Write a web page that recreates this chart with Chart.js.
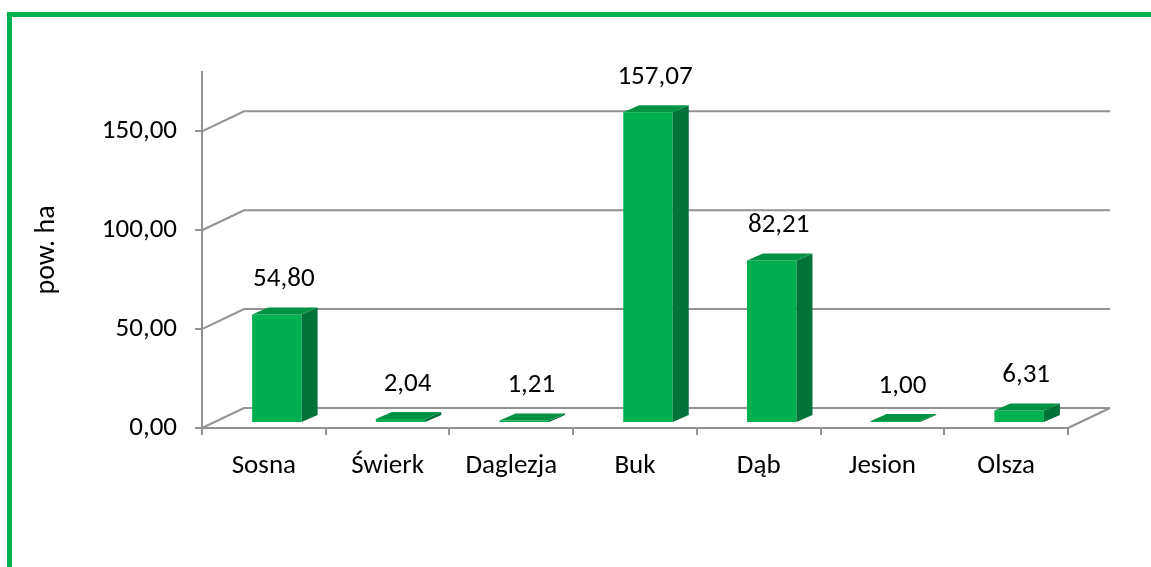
<!DOCTYPE html>
<html>
<head>
<meta charset="utf-8">
<script src="https://cdn.jsdelivr.net/npm/chart.js@4.4.0/dist/chart.umd.min.js"></script>
<style>
  body { margin: 0; background: #fff; overflow: hidden; }
  #wrap { position: relative; width: 1151px; height: 567px; overflow: hidden; }
  #frame {
    position: absolute; left: 7px; top: 12px; width: 1300px; height: 700px;
    border-left: 5px solid #00b050; border-top: 5px solid #00b050;
  }
  #chart { position: absolute; left: 0; top: 0; }
</style>
</head>
<body>
<div id="wrap">
  <div id="frame"></div>
  <canvas id="chart" width="1151" height="567"></canvas>
</div>
<script>
const categories = ['Sosna', 'Świerk', 'Daglezja', 'Buk', 'Dąb', 'Jesion', 'Olsza'];
const areaHa = [54.80, 2.04, 1.21, 157.07, 82.21, 1.00, 6.31];
const yTicks = [0, 50, 100, 150];
const yMax = 180;

const FONT = 'Calibri, Carlito, Lato, sans-serif';
const FSIZE = 27;
const GRID = '#929292';
const FRONT = '#00b050';
const SIDE = '#00723a';
const TOP = '#009243';

// 3d look: depth of the walls, depth of a bar, and where the bars stand on the floor
const WALL_DX = 42, WALL_DY = -20;
const BAR_DX = 16, BAR_DY = -7;
const SHIFT_X = 13, SHIFT_Y = -5;

const fmt = v => v.toFixed(2).replace('.', ',');

const pseudo3d = {
    id: 'pseudo3d',
    beforeDatasetsDraw(chart) {
        const { ctx, chartArea } = chart;
        const y = chart.scales.y;
        ctx.save();
        ctx.strokeStyle = GRID;
        ctx.lineWidth = 2;
        yTicks.forEach(v => {
            const py = y.getPixelForValue(v);
            ctx.beginPath();
            ctx.moveTo(chartArea.left, py);
            ctx.lineTo(chartArea.left + WALL_DX, py + WALL_DY);
            ctx.lineTo(chartArea.right + WALL_DX, py + WALL_DY);
            ctx.stroke();
        });
        const p0 = y.getPixelForValue(0);
        ctx.beginPath();
        ctx.moveTo(chartArea.right, p0);
        ctx.lineTo(chartArea.right + WALL_DX, p0 + WALL_DY);
        ctx.stroke();
        ctx.restore();

        // front faces are drawn by chart.js, moved back a bit into the floor
        ctx.save();
        ctx.translate(SHIFT_X, SHIFT_Y);
    },
    afterDatasetsDraw(chart) {
        const { ctx } = chart;
        const meta = chart.getDatasetMeta(0);
        meta.data.forEach(bar => {
            const l = bar.x - bar.width / 2;
            const r = bar.x + bar.width / 2;
            const t = bar.y, b = bar.base;

            ctx.fillStyle = SIDE;
            ctx.beginPath();
            ctx.moveTo(r, t);
            ctx.lineTo(r + BAR_DX, t + BAR_DY);
            ctx.lineTo(r + BAR_DX, b + BAR_DY);
            ctx.lineTo(r, b);
            ctx.closePath();
            ctx.fill();

            ctx.fillStyle = TOP;
            ctx.beginPath();
            ctx.moveTo(l, t);
            ctx.lineTo(r, t);
            ctx.lineTo(r + BAR_DX, t + BAR_DY);
            ctx.lineTo(l + BAR_DX, t + BAR_DY);
            ctx.closePath();
            ctx.fill();
        });
        ctx.restore();

        // value labels
        ctx.save();
        ctx.font = FSIZE + 'px ' + FONT;
        ctx.fillStyle = '#000';
        ctx.textAlign = 'center';
        ctx.textBaseline = 'middle';
        meta.data.forEach((bar, i) => {
            ctx.fillText(fmt(areaHa[i]), bar.x + 20, bar.y - 40);
        });
        ctx.restore();
    }
};

new Chart(document.getElementById('chart'), {
    type: 'bar',
    data: {
        labels: categories,
        datasets: [{
            data: areaHa,
            backgroundColor: FRONT,
            borderWidth: 0,
            barPercentage: 0.4,
            categoryPercentage: 1
        }]
    },
    options: {
        responsive: false,
        animation: false,
        devicePixelRatio: 1,
        layout: { padding: { left: 0, top: 72, right: 83, bottom: 0 } },
        plugins: { legend: { display: false }, tooltip: { enabled: false } },
        scales: {
            x: {
                afterFit: s => { s.height = 139; },
                grid: { drawOnChartArea: false, tickLength: 7, color: GRID, lineWidth: 2 },
                border: { color: GRID, width: 2 },
                ticks: { color: '#000', padding: 15, maxRotation: 0, font: { family: FONT, size: FSIZE } }
            },
            y: {
                min: 0,
                max: yMax,
                afterFit: s => { s.width = 202; },
                afterBuildTicks: s => { s.ticks = yTicks.map(v => ({ value: v })); },
                grid: { drawOnChartArea: false, tickLength: 7, color: GRID, lineWidth: 2 },
                border: { color: GRID, width: 2 },
                ticks: {
                    color: '#000',
                    padding: 18,
                    font: { family: FONT, size: FSIZE },
                    callback: v => fmt(v)
                },
                title: {
                    display: true,
                    text: 'pow. ha',
                    color: '#000',
                    padding: { top: 30, bottom: 0 },
                    font: { family: FONT, size: 28 }
                }
            }
        }
    },
    plugins: [pseudo3d]
});
</script>
</body>
</html>
